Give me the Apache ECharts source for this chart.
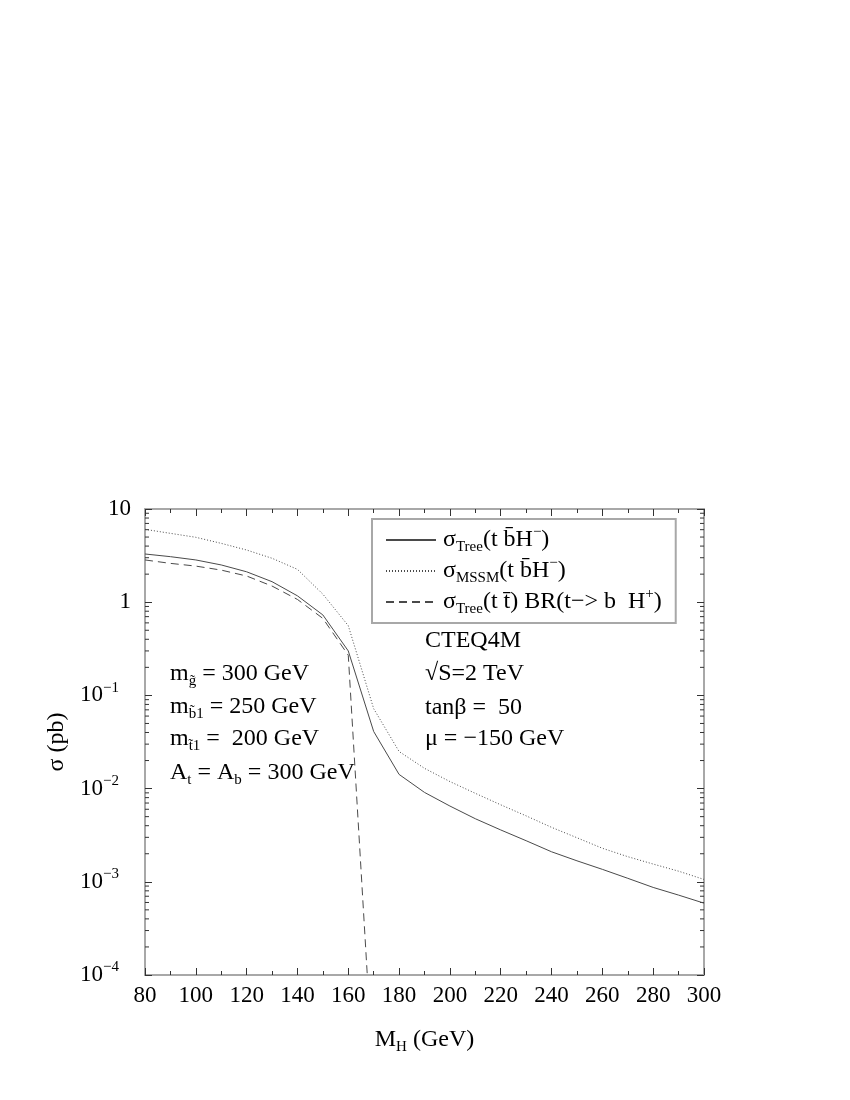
<!DOCTYPE html>
<html>
<head>
<meta charset="utf-8">
<script src="https://cdn.jsdelivr.net/npm/echarts@6/dist/echarts.min.js"></script>
<style>
  html, body { margin: 0; padding: 0; background: #fff; }
  #chart { width: 850px; height: 1100px; }
</style>
</head>
<body>
<div id="chart"></div>
<script>
// Higgs mass (GeV)
const massH = [80, 90, 100, 110, 120, 130, 140, 150, 160, 170, 180, 190, 200,
  210, 220, 230, 240, 250, 260, 270, 280, 290, 300];
// sigma_Tree(t b H-) in pb
const sigmaTree = [3.29, 3.08, 2.84, 2.51, 2.12, 1.66, 1.17, 0.73, 0.30, 0.041,
  0.0142, 0.0091, 0.0065, 0.00475, 0.0036, 0.00276, 0.0021, 0.00168, 0.00136,
  0.00109, 0.00087, 0.00072, 0.00059];
// sigma_MSSM(t b H-) in pb
const sigmaMSSM = [6.05, 5.48, 4.97, 4.28, 3.63, 2.96, 2.25, 1.22, 0.56, 0.072,
  0.025, 0.0165, 0.0119, 0.0089, 0.0067, 0.0051, 0.00384, 0.00297, 0.00229,
  0.00186, 0.00155, 0.0013, 0.00106];
// sigma_Tree(t tbar) BR(t -> b H+) in pb, only up to 170 GeV
const massTT = [80, 90, 100, 110, 120, 130, 140, 150, 160, 170];
const sigmaTT = [2.84, 2.61, 2.44, 2.21, 1.91, 1.49, 1.07, 0.67, 0.27, 0.000007];

// minor ticks of the log axis
const minorMult = [2, 3, 4, 5, 6, 7, 8, 9];
const decades = [0.0001, 0.001, 0.01, 0.1, 1];

const FONT = "'Liberation Serif', 'Times New Roman', serif";
const LINE = "#4a4a4a";
const FRAME = "#a8a8a8";

const rich = {
  n: { fontSize: 24, lineHeight: 30, fontFamily: FONT, color: "#000" },
  tk: { fontSize: 23, lineHeight: 30, fontFamily: FONT, color: "#000" },
  sub: { fontSize: 15, lineHeight: 14, verticalAlign: "bottom", fontFamily: FONT, color: "#000" },
  sub2: { fontSize: 15, lineHeight: 8, verticalAlign: "bottom", fontFamily: FONT, color: "#000" },
  sup: { fontSize: 15, lineHeight: 14, verticalAlign: "top", fontFamily: FONT, color: "#000" }
};

const pair = (xs, ys) => xs.map((x, i) => [x, ys[i]]);

const minorData = [];
decades.forEach((d) => minorMult.forEach((m) => minorData.push([80, m * d])));

const legendNames = {
  tree: "{n|σ}{sub|Tree}{n|(t b̄H}{sup|−}{n|)}",
  mssm: "{n|σ}{sub|MSSM}{n|(t b̄H}{sup|−}{n|)}",
  ttbar: "{n|σ}{sub|Tree}{n|(t t̄) BR(t−> b  H}{sup|+}{n|)}"
};

function textEl(x, y, text) {
  return {
    type: "text",
    x: x,
    y: y,
    style: { text: text, rich: rich, verticalAlign: "middle", align: "left" }
  };
}

const chart = echarts.init(document.getElementById("chart"));

const axisCommon = {
  axisLine: { show: true, onZero: false, lineStyle: { color: FRAME, width: 2 } },
  axisTick: { show: true, inside: true, length: 7, lineStyle: { color: "#333", width: 1 } },
  splitLine: { show: false }
};

chart.setOption({
  backgroundColor: "#fff",
  animation: false,
  grid: { left: 145, right: 146, top: 509, bottom: 125, containLabel: false },
  legend: {
    data: ["tree", "mssm", "ttbar"],
    orient: "vertical",
    left: 372,
    top: 519,
    padding: [6, 14, 6, 13],
    itemWidth: 50,
    itemHeight: 14,
    itemGap: 1,
    borderColor: FRAME,
    borderWidth: 2,
    itemStyle: { opacity: 0 },
    formatter: (name) => legendNames[name],
    textStyle: { rich: rich, fontFamily: FONT, fontSize: 24, padding: [0, 0, 0, 2] }
  },
  xAxis: [
    Object.assign({}, axisCommon, {
      type: "value",
      min: 80,
      max: 300,
      interval: 20,
      position: "bottom",
      minorTick: { show: true, splitNumber: 2, length: 4, lineStyle: { color: "#333" } },
      axisLabel: { margin: 9, fontFamily: FONT, fontSize: 23, color: "#000" },
      name: "{n|M}{sub|H}{n| (GeV)}",
      nameLocation: "middle",
      nameGap: 50,
      nameTextStyle: { rich: rich }
    }),
    Object.assign({}, axisCommon, {
      type: "value",
      min: 80,
      max: 300,
      interval: 20,
      position: "top",
      minorTick: { show: true, splitNumber: 2, length: 4, lineStyle: { color: "#333" } },
      axisLabel: { show: false }
    })
  ],
  yAxis: [
    Object.assign({}, axisCommon, {
      type: "log",
      logBase: 10,
      min: 0.0001,
      max: 10,
      position: "left",
      axisLabel: {
        margin: 14,
        formatter: (v) => {
          const e = Math.round(Math.log10(v));
          if (e === 1) return "{tk|10}";
          if (e === 0) return "{tk|1}";
          return "{tk|10}{sup|" + (e < 0 ? "−" + (-e) : e) + "}{pad|}";
        },
        rich: Object.assign({}, rich, { pad: { width: 12 } })
      },
      name: "σ (pb)",
      nameLocation: "middle",
      nameRotate: 90,
      nameGap: 70,
      nameTextStyle: { fontFamily: FONT, fontSize: 24, color: "#000" }
    }),
    Object.assign({}, axisCommon, {
      type: "log",
      logBase: 10,
      min: 0.0001,
      max: 10,
      position: "right",
      axisLabel: { show: false }
    })
  ],
  graphic: [
    textEl(170, 674, "{n|m}{sub|g̃}{n| = 300 GeV}"),
    textEl(170, 707, "{n|m}{sub|b̃}{sub2|1}{n| = 250 GeV}"),
    textEl(170, 739, "{n|m}{sub|t̃}{sub2|1}{n| =  200 GeV}"),
    textEl(170, 773, "{n|A}{sub|t}{n| = A}{sub|b}{n| = 300 GeV}"),
    textEl(425, 641, "{n|CTEQ4M}"),
    textEl(425, 674, "{n|√S=2 TeV}"),
    textEl(425, 708, "{n|tanβ =  50}"),
    textEl(425, 739, "{n|μ = −150 GeV}")
  ],
  series: [
    {
      name: "tree",
      type: "line",
      data: pair(massH, sigmaTree),
      symbol: "none",
      lineStyle: { color: LINE, width: 1 },
      itemStyle: { color: LINE }
    },
    {
      name: "mssm",
      type: "line",
      data: pair(massH, sigmaMSSM),
      symbol: "none",
      lineStyle: { color: LINE, width: 1, type: [1, 2] },
      itemStyle: { color: LINE }
    },
    {
      name: "ttbar",
      type: "line",
      data: pair(massTT, sigmaTT),
      symbol: "none",
      clip: true,
      lineStyle: { color: LINE, width: 1, type: [8, 5] },
      itemStyle: { color: LINE }
    },
    {
      name: "minorTicks",
      type: "custom",
      silent: true,
      data: minorData,
      encode: { x: 0, y: 1 },
      renderItem: (params, api) => {
        const v = api.value(1);
        const pL = api.coord([80, v]);
        const pR = api.coord([300, v]);
        const st = { stroke: "#333", lineWidth: 1 };
        return {
          type: "group",
          children: [
            { type: "line", shape: { x1: pL[0], y1: pL[1], x2: pL[0] + 4, y2: pL[1] }, style: st },
            { type: "line", shape: { x1: pR[0] - 4, y1: pR[1], x2: pR[0], y2: pR[1] }, style: st }
          ]
        };
      }
    }
  ]
});
</script>
</body>
</html>
